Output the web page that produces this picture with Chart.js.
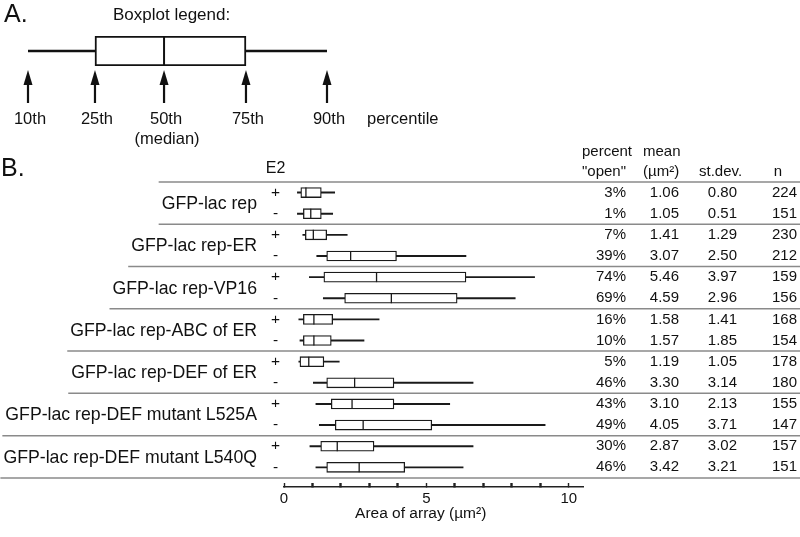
<!DOCTYPE html>
<html>
<head>
<meta charset="utf-8">
<script src="https://cdn.jsdelivr.net/npm/chart.js@4.4.1/dist/chart.umd.min.js"></script>
<style>
  html, body { margin: 0; padding: 0; background: #fff; }
  #wrap { position: relative; width: 800px; height: 537px; }
  canvas { position: absolute; left: 0; top: 0; }
</style>
</head>
<body>
<div id="wrap">
  <canvas id="chartB" width="800" height="537"></canvas>
  <canvas id="chartA" width="800" height="150"></canvas>
</div>
<script>
// ---------- Data ----------
const groups = ['GFP-lac rep', 'GFP-lac rep-ER', 'GFP-lac rep-VP16', 'GFP-lac rep-ABC of ER',
  'GFP-lac rep-DEF of ER', 'GFP-lac rep-DEF mutant L525A', 'GFP-lac rep-DEF mutant L540Q'];
const e2Signs = ['+', '-', '+', '-', '+', '-', '+', '-', '+', '-', '+', '-', '+', '-'];
const p10 = [0.47, 0.47, 0.66, 1.15, 0.89, 1.38, 0.52, 0.56, 0.52, 1.03, 1.12, 1.24, 0.91, 1.12];
const p25 = [0.59, 0.68, 0.75, 1.50, 1.40, 2.13, 0.68, 0.68, 0.56, 1.50, 1.66, 1.80, 1.29, 1.50];
const p50 = [0.77, 0.94, 1.03, 2.34, 3.25, 3.77, 1.05, 1.05, 0.87, 2.48, 2.39, 2.78, 1.87, 2.64];
const p75 = [1.31, 1.31, 1.50, 3.95, 6.39, 6.08, 1.71, 1.66, 1.40, 3.86, 3.86, 5.19, 3.16, 4.24];
const p90 = [1.78, 1.71, 2.22, 6.39, 8.80, 8.12, 3.34, 2.81, 1.94, 6.64, 5.82, 9.17, 6.64, 6.29];
const pctOpen = [3, 1, 7, 39, 74, 69, 16, 10, 5, 46, 43, 49, 30, 46];
const meanArea = [1.06, 1.05, 1.41, 3.07, 5.46, 4.59, 1.58, 1.57, 1.19, 3.30, 3.10, 4.05, 2.87, 3.42];
const stdDev = [0.80, 0.51, 1.29, 2.50, 3.97, 2.96, 1.41, 1.85, 1.05, 3.14, 2.13, 3.71, 3.02, 3.21];
const nCells = [224, 151, 230, 212, 159, 156, 168, 154, 178, 180, 155, 147, 157, 151];
const xTicks = [0, 1, 2, 3, 4, 5, 6, 7, 8, 9, 10];
const xTickLabels = ['0', '', '', '', '', '5', '', '', '', '', '10'];

// Part A legend: an example box (arbitrary units) and its percentile names
const legendValues = [0, 2.24, 4.55, 7.29, 10];
const legendNames = ['10th', '25th', '50th', '75th', '90th'];

const FONT = '"Liberation Sans", Arial, Helvetica, sans-serif';
const INK = '#111';
Chart.defaults.font.family = FONT;
Chart.defaults.color = INK;
Chart.defaults.animation = false;

const rows = p50.map((_, i) => i);

// ---------- Part B ----------
const LABEL_FONT = '17.7px ' + FONT;
const plotB = {
  id: 'plotB',
  beforeDatasetsDraw(chart) {
    const { ctx, scales: { y } } = chart;
    ctx.save();
    ctx.font = LABEL_FONT;
    ctx.strokeStyle = '#8a8a8a';
    ctx.lineWidth = 1.5;
    const labelRight = 257;
    groups.forEach((g, k) => {
      const w = ctx.measureText(g).width;
      const left = Math.max(0, labelRight - w - 3);
      const yb = y.getPixelForValue(2 * k + 1.5);
      ctx.beginPath(); ctx.moveTo(left, yb); ctx.lineTo(800, yb); ctx.stroke();
      if (k === 0) {
        const yt = y.getPixelForValue(-0.5);
        ctx.beginPath(); ctx.moveTo(left, yt); ctx.lineTo(800, yt); ctx.stroke();
      }
    });
    ctx.restore();
  },
  afterDraw(chart) {
    const { ctx, scales: { x, y } } = chart;
    ctx.save();
    ctx.fillStyle = INK;
    ctx.textBaseline = 'middle';
    // group labels
    ctx.font = LABEL_FONT;
    ctx.textAlign = 'right';
    groups.forEach((g, k) => ctx.fillText(g, 257, y.getPixelForValue(2 * k + 0.5) + 1));
    // table rows
    ctx.font = '15px ' + FONT;
    rows.forEach(i => {
      const yy = y.getPixelForValue(i);
      ctx.fillText(pctOpen[i] + '%', 626, yy);
      ctx.fillText(meanArea[i].toFixed(2), 679, yy);
      ctx.fillText(stdDev[i].toFixed(2), 737, yy);
      ctx.fillText(String(nCells[i]), 797, yy);
    });
    // headers
    ctx.textAlign = 'left';
    ctx.fillText('percent', 582, 152);
    ctx.fillText('"open"', 582, 172);
    ctx.fillText('mean', 643, 152);
    ctx.fillText('(µm²)', 643, 172);
    ctx.fillText('st.dev.', 699, 172);
    ctx.textAlign = 'center';
    ctx.fillText('n', 778, 172);
    ctx.font = '16px ' + FONT;
    ctx.fillText('E2', 275.5, 169);
    // panel letter
    ctx.textAlign = 'left';
    ctx.font = '25px ' + FONT;
    ctx.fillText('B.', 1, 169);
    // x axis title
    ctx.textAlign = 'center';
    ctx.font = '15.5px ' + FONT;
    ctx.fillText('Area of array (µm²)', x.getPixelForValue(4.8), 514);
    ctx.restore();
  }
};

new Chart(document.getElementById('chartB'), {
  type: 'bar',
  data: {
    datasets: [
      {
        type: 'line', showLine: false, order: 0,
        data: rows.map(i => ({ x: p50[i], y: i })),
        pointStyle: 'line', rotation: 90, radius: 5, borderWidth: 1.3,
        borderColor: '#1a1a1a', backgroundColor: '#1a1a1a'
      },
      {
        type: 'bar', order: 1, grouped: false,
        data: rows.map(i => ({ x: [p25[i], p75[i]], y: i })),
        backgroundColor: '#fff', borderColor: '#1a1a1a', borderWidth: 1.3,
        borderSkipped: false, barThickness: 10
      },
      {
        type: 'bar', order: 2, grouped: false,
        data: rows.map(i => ({ x: [p10[i], p90[i]], y: i })),
        backgroundColor: '#1a1a1a', borderWidth: 0, barThickness: 1.25
      }
    ]
  },
  options: {
    indexAxis: 'y',
    responsive: false,
    layout: { padding: { left: 0, right: 217, top: 182, bottom: 0 } },
    plugins: { legend: { display: false }, tooltip: { enabled: false } },
    scales: {
      y: {
        type: 'linear', reverse: true, min: -0.5, max: 13.93, offset: false,
        afterBuildTicks: s => { s.ticks = rows.map(v => ({ value: v })); },
        afterFit: s => { s.width = 284; },
        grid: { display: false, drawTicks: false, offset: false },
        border: { display: false },
        ticks: {
          callback: v => e2Signs[v], font: { size: 15.5 }, color: INK,
          padding: 4, crossAlign: 'center', autoSkip: false
        }
      },
      x: {
        type: 'linear', min: 0, max: 10.5,
        afterBuildTicks: s => { s.ticks = xTicks.map(v => ({ value: v })); },
        afterFit: s => { s.height = 50; },
        grid: {
          drawOnChartArea: false, drawTicks: true, tickLength: -4, tickColor: '#222',
          tickWidth: ctx => (ctx.tick && ctx.tick.value % 5 === 0 ? 1.4 : 2.4)
        },
        border: { display: true, color: '#222', width: 1.5 },
        ticks: {
          callback: (v, idx) => xTickLabels[idx], font: { size: 15 }, color: INK,
          padding: 7, maxRotation: 0, autoSkip: false
        }
      }
    }
  },
  plugins: [plotB]
});

// ---------- Part A (boxplot legend) ----------
const plotA = {
  id: 'plotA',
  afterDraw(chart) {
    const { ctx, scales: { x } } = chart;
    ctx.save();
    ctx.fillStyle = INK;
    ctx.strokeStyle = INK;
    ctx.textBaseline = 'middle';
    ctx.font = '25px ' + FONT;
    ctx.textAlign = 'left';
    ctx.fillText('A.', 4, 15);
    ctx.font = '17px ' + FONT;
    ctx.fillText('Boxplot legend:', 113, 15);
    // arrows + labels
    ctx.lineWidth = 2.2;
    ctx.font = '16.5px ' + FONT;
    ctx.textAlign = 'center';
    legendValues.forEach((v, i) => {
      const px = x.getPixelForValue(v);
      ctx.beginPath(); ctx.moveTo(px, 80); ctx.lineTo(px, 103); ctx.stroke();
      ctx.beginPath(); ctx.moveTo(px, 70); ctx.lineTo(px - 4.5, 85); ctx.lineTo(px + 4.5, 85); ctx.closePath(); ctx.fill();
      ctx.fillText(legendNames[i], px + 2, 119);
    });
    ctx.fillText('(median)', x.getPixelForValue(legendValues[2]) + 3, 139);
    ctx.textAlign = 'left';
    ctx.fillText('percentile', 367, 119);
    ctx.restore();
  }
};

new Chart(document.getElementById('chartA'), {
  type: 'bar',
  data: {
    datasets: [
      {
        type: 'line', showLine: false, order: 0,
        data: [{ x: legendValues[2], y: 0.5 }],
        pointStyle: 'line', rotation: 90, radius: 15, borderWidth: 2,
        borderColor: INK
      },
      {
        type: 'bar', order: 1, grouped: false,
        data: [{ x: [legendValues[1], legendValues[3]], y: 0.5 }],
        backgroundColor: '#fff', borderColor: INK, borderWidth: 2,
        borderSkipped: false, barThickness: 30
      },
      {
        type: 'bar', order: 2, grouped: false,
        data: [{ x: [legendValues[0], legendValues[4]], y: 0.5 }],
        backgroundColor: INK, borderWidth: 0, barThickness: 2
      }
    ]
  },
  options: {
    indexAxis: 'y',
    responsive: false,
    layout: { padding: { left: 28, right: 473, top: 36, bottom: 84 } },
    plugins: { legend: { display: false }, tooltip: { enabled: false } },
    scales: {
      x: { type: 'linear', min: 0, max: 10, display: false },
      y: { type: 'linear', min: 0, max: 1, display: false, offset: false }
    }
  },
  plugins: [plotA]
});
</script>
</body>
</html>
